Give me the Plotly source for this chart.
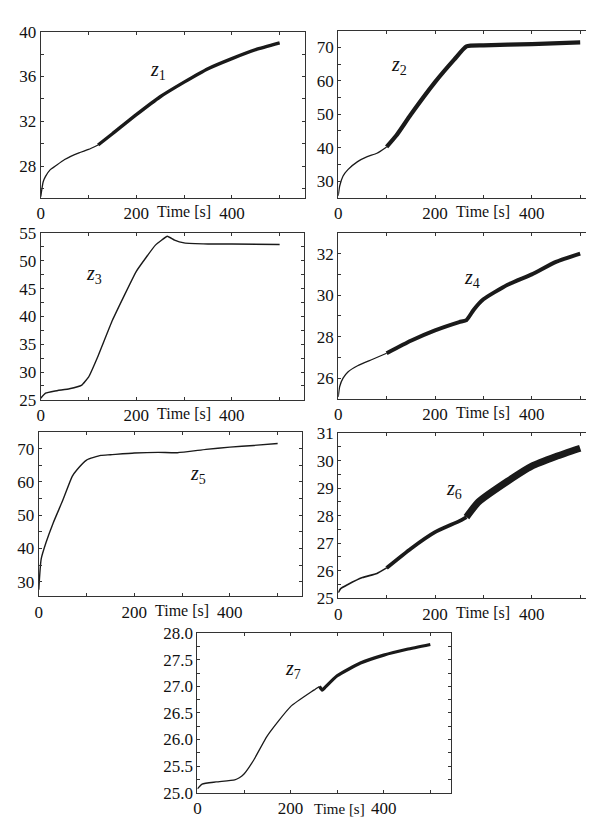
import plotly.graph_objects as go

# ---------------- data ----------------
t1 = [0, 5, 10, 20, 30, 50, 80, 100, 120, 150, 200, 250, 300, 350, 400, 450, 500]
z1 = [25.3, 26.6, 27.1, 27.7, 28.0, 28.6, 29.2, 29.5, 29.9, 30.9, 32.6, 34.2, 35.5, 36.7, 37.6, 38.4, 39.0]

t2 = [0, 3, 10, 20, 40, 60, 80, 100, 120, 150, 200, 240, 265, 300, 400, 500]
z2 = [25.6, 28.5, 31.5, 33.4, 35.8, 37.3, 38.3, 40.2, 43.6, 49.9, 59.6, 66.4, 70.3, 70.6, 71.0, 71.5]

t3 = [0, 10, 30, 60, 85, 100, 120, 150, 200, 240, 265, 280, 300, 350, 400, 500]
z3 = [25.3, 26.2, 26.6, 27.0, 27.6, 29.1, 32.9, 39.3, 48.1, 52.8, 54.4, 53.7, 53.2, 53.0, 53.0, 52.9]

t4 = [0, 3, 10, 20, 40, 70, 100, 150, 200, 250, 265, 280, 300, 350, 400, 450, 500]
z4 = [25.1, 25.6, 26.0, 26.3, 26.6, 26.9, 27.2, 27.8, 28.3, 28.7, 28.8, 29.3, 29.8, 30.5, 31.0, 31.6, 32.0]

t5 = [0, 5, 15, 30, 50, 70, 80, 100, 130, 150, 200, 250, 290, 350, 400, 450, 500]
z5 = [27.6, 36.8, 41.7, 47.6, 54.4, 61.7, 63.7, 66.6, 68.0, 68.2, 68.7, 68.9, 68.8, 69.8, 70.5, 71.0, 71.6]

t6 = [0, 5, 20, 50, 80, 100, 150, 200, 250, 265, 290, 350, 400, 450, 500]
z6 = [25.2, 25.35, 25.5, 25.75, 25.9, 26.1, 26.8, 27.4, 27.8, 27.95, 28.5, 29.25, 29.8, 30.15, 30.45]

t7 = [0, 10, 40, 80, 90, 100, 120, 150, 200, 250, 262, 268, 275, 300, 350, 400, 450, 500]
z7 = [25.07, 25.16, 25.2, 25.24, 25.28, 25.35, 25.6, 26.07, 26.62, 26.93, 27.0, 26.93, 26.99, 27.2, 27.44, 27.59, 27.7, 27.79]

x_tick_vals = [0, 200, 400]
x_tick_text = ["0", "200", "400"]
x_title = "Time [s]"
panel_names = ["1", "2", "3", "4", "5", "6", "7"]

series = [(t1, z1), (t2, z2), (t3, z3), (t4, z4), (t5, z5), (t6, z6), (t7, z7)]

# ---------------- layout / style ----------------
W, H = 594, 819
# plot boxes in pixels: (left, right, top, bottom)
boxes = [
    (29, 295, 15, 185),
    (329, 594, 14, 185),
    (29, 294, 221, 392),
    (329, 594, 221, 391),
    (27, 292, 425, 593),
    (329, 594, 426, 595),
    (187, 443, 631, 794),
]
x_ranges = [[0, 552], [0, 543], [0, 550], [0, 543], [0, 550], [0, 543], [0, 545]]
y_ranges = [[25.2, 40], [25, 75], [25, 55], [25, 33], [25.6, 75], [25, 31], [25, 28]]
y_dtick = [4, 10, 5, 2, 10, 1, 0.5]
y_minor = [2, 5, 2.5, 1, 5, 0.5, 0.25]
y_fmt = ["", "", "", "", "", "", ".1f"]
# (t_start, t_end, line width) segments per panel — imitates the noisy band thickness
segments = [
    [(0, 120, 1.3), (120, 500, 3.4)],
    [(0, 100, 1.3), (100, 500, 4.2)],
    [(0, 500, 1.4)],
    [(0, 100, 1.3), (100, 500, 4.0)],
    [(0, 500, 1.4)],
    [(0, 100, 1.6), (100, 265, 3.8), (265, 500, 7.0)],
    [(0, 262, 1.3), (262, 500, 3.2)],
]
smooth = [0.5, 0.5, 0.3, 0.5, 0.5, 0.5, 0.5]
label_pos = [(245, 36.5), (125, 64.5), (112, 47.5), (277, 30.8), (333, 62.2), (239, 28.96), (206, 27.32)]
title_x = [300, 300, 300, 300, 300, 300, 306]
title_size = [16, 16, 16, 16, 16, 16, 15]
title_shift = [-14, -14, -14, -14, -14, -14, -16]

FONT = "Liberation Serif"
LINE = "#1a1a1a"

fig = go.Figure()
annotations = []
for i, (t, z) in enumerate(series):
    n = i + 1
    xa = "x" if n == 1 else f"x{n}"
    ya = "y" if n == 1 else f"y{n}"
    for (a, b, w) in segments[i]:
        xs = [tv for tv in t if a <= tv <= b]
        ys = [zv for tv, zv in zip(t, z) if a <= tv <= b]
        fig.add_trace(go.Scatter(x=xs, y=ys, mode="lines", xaxis=xa, yaxis=ya,
                                 line=dict(color=LINE, width=w, shape="spline", smoothing=smooth[i]),
                                 showlegend=False, hoverinfo="skip"))
    l, r, tp, bt = boxes[i]
    xkey = "xaxis" if n == 1 else f"xaxis{n}"
    ykey = "yaxis" if n == 1 else f"yaxis{n}"
    fig.update_layout(**{
        xkey: dict(domain=[l / W, r / W], range=x_ranges[i], anchor=ya,
                   tickvals=x_tick_vals, ticktext=x_tick_text, ticks="inside", ticklen=3,
                   tickcolor="#333", showline=True, linecolor="#333", linewidth=1, mirror="ticks",
                   showgrid=False, zeroline=False,
                   minor=dict(dtick=100, tick0=0, ticks="inside", ticklen=3, tickcolor="#333", showgrid=False),
                   tickfont=dict(family=FONT, size=17, color="#111")),
        ykey: dict(domain=[1 - bt / H, 1 - tp / H], range=y_ranges[i], anchor=xa,
                   dtick=y_dtick[i], tick0=0, tickformat=y_fmt[i], ticks="inside", ticklen=3,
                   tickcolor="#333", showline=True, linecolor="#333", linewidth=1, mirror="ticks",
                   showgrid=False, zeroline=False,
                   minor=dict(dtick=y_minor[i], tick0=0, ticks="inside", ticklen=3, tickcolor="#333", showgrid=False),
                   tickfont=dict(family=FONT, size=17, color="#111")),
    })
    annotations.append(dict(text=x_title, xref=xa, yref=f"{ya} domain", x=title_x[i], y=0,
                            yshift=title_shift[i], yanchor="middle", xanchor="center", showarrow=False,
                            font=dict(family=FONT, size=title_size[i], color="#111")))
    lx, ly = label_pos[i]
    annotations.append(dict(text=f"<i>z</i><sub>{panel_names[i]}</sub>", xref=xa, yref=ya, x=lx, y=ly,
                            showarrow=False, xanchor="center", yanchor="middle",
                            font=dict(family=FONT, size=20, color="#111")))

fig.update_layout(width=W, height=H, margin=dict(l=0, r=0, t=0, b=0),
                  paper_bgcolor="white", plot_bgcolor="white", annotations=annotations,
                  showlegend=False)
fig.write_html("out.html")
